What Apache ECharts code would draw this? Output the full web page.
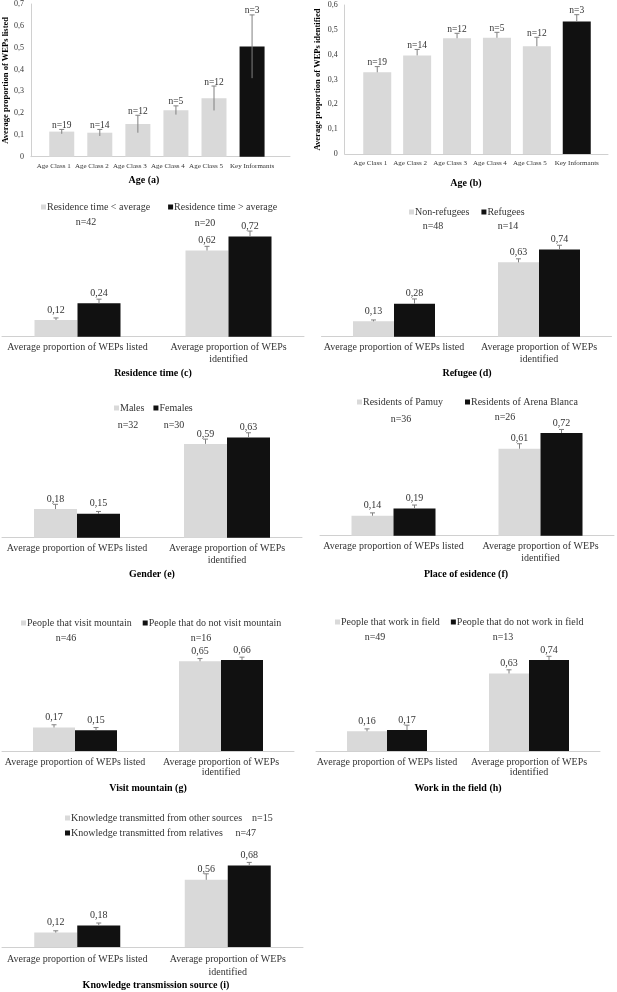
<!DOCTYPE html>
<html><head><meta charset="utf-8">
<script src="https://cdn.jsdelivr.net/npm/echarts@6/dist/echarts.min.js"></script>
<style>html,body{margin:0;padding:0;background:#fff}#c{width:617px;height:992px}</style>
</head><body><div id="c"></div><script>
// ---------- DATA ----------
const ageClasses = ['Age Class 1','Age Class 2','Age Class 3','Age Class 4','Age Class 5','Key Informants'];
const ageN = ['n=19','n=14','n=12','n=5','n=12','n=3'];
const ageListed = [0.115, 0.11, 0.15, 0.213, 0.268, 0.505];
const ageListedErr = [0.01, 0.015, 0.04, 0.02, 0.056, 0.145];
const ageIdentified = [0.329, 0.397, 0.466, 0.468, 0.434, 0.534];
const ageIdentifiedErr = [0.023, 0.024, 0.02, 0.022, 0.036, 0.027];

const measures = ['Average proportion of WEPs listed','Average proportion of WEPs identified'];

const resGroups = ['Residence time < average','Residence time > average'];
const resN = ['n=42','n=20'];
const resLow = [0.12, 0.62], resLowErr = [0.015, 0.03];
const resHigh = [0.24, 0.72], resHighErr = [0.03, 0.04];

const refGroups = ['Non-refugees','Refugees'];
const refN = ['n=48','n=14'];
const refNon = [0.13, 0.63], refNonErr = [0.012, 0.03];
const refYes = [0.28, 0.74], refYesErr = [0.04, 0.035];

const genGroups = ['Males','Females'];
const genN = ['n=32','n=30'];
const genMale = [0.18, 0.59], genMaleErr = [0.03, 0.03];
const genFemale = [0.15, 0.63], genFemaleErr = [0.015, 0.03];

const plcGroups = ['Residents of Pamuy','Residents of Arena Blanca'];
const plcN = ['n=36','n=26'];
const plcPamuy = [0.14, 0.61], plcPamuyErr = [0.02, 0.035];
const plcArena = [0.19, 0.72], plcArenaErr = [0.025, 0.025];

const mtnGroups = ['People that visit mountain','People that do not visit mountain'];
const mtnN = ['n=46','n=16'];
const mtnVisit = [0.17, 0.65], mtnVisitErr = [0.02, 0.02];
const mtnNot = [0.15, 0.66], mtnNotErr = [0.02, 0.02];

const fldGroups = ['People that work in field','People that do not work in field'];
const fldN = ['n=49','n=13'];
const fldWork = [0.16, 0.63], fldWorkErr = [0.02, 0.03];
const fldNot = [0.17, 0.74], fldNotErr = [0.04, 0.03];

const knwGroups = ['Knowledge transmitted from other sources','Knowledge transmitted from relatives'];
const knwN = ['n=15','n=47'];
const knwOther = [0.12, 0.56], knwOtherErr = [0.015, 0.05];
const knwRel = [0.18, 0.68], knwRelErr = [0.02, 0.025];

// ---------- STYLE / LAYOUT ----------
const FONT = 'Liberation Serif';
const LIGHT = '#d9d9d9', DARK = '#111111', ERR = '#808080', AXIS = '#d0d0d0', TXT = '#333333';

const grid = [], xAxis = [], yAxis = [], series = [], legend = [], graphic = [];

function fmt(v){ return v.toFixed(2).replace('.', ','); }
function txt(s, x, y, size, weight){
  return {type:'text', x:x, y:y, silent:true,
    style:{text:s, align:'center', verticalAlign:'middle', textAlign:'center', textVerticalAlign:'middle',
      fontFamily:FONT, fontSize:size, fontWeight:weight||'normal', fill: weight==='bold' ? '#000' : TXT}};
}
function errSeries(gi, values, errs, offset, sym, labels){
  return {type:'custom', xAxisIndex:gi, yAxisIndex:gi, z:5, silent:true,
    data: values.map((v,i)=>[i, v, errs[i]]),
    renderItem(params, api){
      const i = api.value(0), v = api.value(1), e = api.value(2);
      const p = api.coord([i, v]);
      const t = api.coord([i, v + e]);
      const b = sym ? api.coord([i, v - e]) : p;
      const x = p[0] + offset;
      const ch = [
        {type:'line', shape:{x1:x, y1:b[1], x2:x, y2:t[1]}, style:{stroke:ERR, lineWidth:1}},
        {type:'line', shape:{x1:x-2.5, y1:t[1], x2:x+2.5, y2:t[1]}, style:{stroke:ERR, lineWidth:1}}
      ];
      if (labels) ch.push({type:'text', style:{text:labels[params.dataIndex], x:x, y:t[1]-4,
        align:'center', verticalAlign:'middle', fontFamily:FONT, fontSize:9.5, fill:TXT}});
      return {type:'group', children:ch};
    }};
}

function agePanel(o, values, errs, sym){
  const go = grid.length;
  grid.push({left:o.outerLeft, top:o.top, width:o.outerWidth, height:o.height});
  xAxis.push({gridIndex:go, type:'value', min:0, max:1, axisLine:{show:true, lineStyle:{color:AXIS}},
    axisTick:{show:false}, axisLabel:{show:false}, splitLine:{show:false}});
  yAxis.push({gridIndex:go, type:'value', min:0, max:o.max, interval:0.1,
    axisLine:{show:true, lineStyle:{color:AXIS}}, axisTick:{show:false}, splitLine:{show:false},
    axisLabel:{fontFamily:FONT, fontSize:8, color:TXT, margin:7,
      formatter: v => v === 0 ? '0' : v.toFixed(1).replace('.', ',')},
    name:o.yName, nameLocation:'middle', nameGap:o.nameGap,
    nameTextStyle:{fontFamily:FONT, fontSize:8.5, fontWeight:'bold', color:'#000'}});
  const gi = grid.length;
  grid.push({left:o.innerLeft, top:o.top, width:o.innerWidth, height:o.height});
  const last = ageClasses.length - 1;
  xAxis.push({gridIndex:gi, type:'category', data:ageClasses, axisLine:{show:false}, axisTick:{show:false},
    axisLabel:{fontFamily:FONT, fontSize:7, color:TXT, margin:6, interval:0,
      formatter: (v, i) => i < last ? '{s|' + v + '}' : v,
      rich:{s:{fontFamily:FONT, fontSize:7, color:TXT, padding:[0, o.labShift, 0, 0]}}}});
  yAxis.push({gridIndex:gi, type:'value', min:0, max:o.max, show:false});
  series.push({type:'bar', xAxisIndex:gi, yAxisIndex:gi, barWidth:o.barW, silent:true,
    data: values.map((v,i)=>({value:v, itemStyle:{color: i === last ? DARK : LIGHT}}))});
  series.push(errSeries(gi, values, errs, 0, sym, ageN));
  graphic.push(txt(o.title, o.titleX, o.titleY, 10, 'bold'));
}

function groupPanel(o){
  const gi = grid.length;
  grid.push({left:o.left, top:o.base - o.unit, width:o.width, height:o.unit});
  xAxis.push({gridIndex:gi, type:'category', data:measures, axisLine:{lineStyle:{color:AXIS}},
    axisTick:{show:false},
    axisLabel:{fontFamily:FONT, fontSize:10, color:TXT, margin:o.margin, lineHeight:o.lh, interval:0,
      formatter: s => s.replace('WEPs identified', 'WEPs\nidentified')}});
  yAxis.push({gridIndex:gi, type:'value', min:0, max:1, show:false});
  const defs = [[o.names[0], o.a, LIGHT], [o.names[1], o.b, DARK]];
  defs.forEach(([name, vals, color]) => {
    series.push({type:'bar', name:name, xAxisIndex:gi, yAxisIndex:gi, barWidth:o.barW, barGap:'0%',
      silent:true, itemStyle:{color:color}, data:vals,
      label:{show:true, position:'top', distance:5, fontFamily:FONT, fontSize:10, color:TXT,
        formatter: p => fmt(p.value)}});
  });
  series.push(errSeries(gi, o.a, o.aErr, -o.barW/2, false, null));
  series.push(errSeries(gi, o.b, o.bErr, o.barW/2, false, null));
  const lg = {left:o.legLeft, top:o.legTop, padding:0, itemWidth:5, itemHeight:5, icon:'rect',
    itemGap:o.legGap, selectedMode:false, data:o.names,
    textStyle:{fontFamily:FONT, fontSize:10, color:TXT, padding:[0, 0, 0, -4]}};
  if (o.vertical) {
    lg.orient = 'vertical';
    lg.formatter = name => name + (name === o.names[0] ? '    ' : '     ') + o.n[o.names.indexOf(name)];
  } else {
    o.nPos.forEach((p, k) => graphic.push(txt(o.n[k], p[0], p[1], 10)));
  }
  legend.push(lg);
  graphic.push(txt(o.title, o.titleX, o.titleY, 10, 'bold'));
}

agePanel({outerLeft:28, outerWidth:262, innerLeft:42.7, innerWidth:228.4, top:4, height:152.7, max:0.7,
  barW:25, nameGap:18, labShift:16, yName:'Average proportion of WEPs listed', title:'Age (a)', titleX:144, titleY:180},
  ageListed, ageListedErr, true);
agePanel({outerLeft:344.7, outerWidth:263.3, innerLeft:357.3, innerWidth:239.4, top:5, height:149, max:0.6,
  barW:28, nameGap:22, labShift:14, yName:'Average proportion of WEPs identified', title:'Age (b)', titleX:466, titleY:183},
  ageIdentified, ageIdentifiedErr, false);

groupPanel({names:resGroups, n:resN, a:resLow, aErr:resLowErr, b:resHigh, bErr:resHighErr,
  left:2, width:302, base:336.7, unit:139, barW:43, lh:12, margin:5,
  legLeft:41, legTop:202, legGap:18, nPos:[[86,222],[205,223]], title:'Residence time (c)', titleX:153, titleY:373});
groupPanel({names:refGroups, n:refN, a:refNon, aErr:refNonErr, b:refYes, bErr:refYesErr,
  left:321.5, width:290, base:336.7, unit:118, barW:41, lh:12, margin:5,
  legLeft:409, legTop:207, legGap:12, nPos:[[433,226],[508,226]], title:'Refugee (d)', titleX:467, titleY:373});
groupPanel({names:genGroups, n:genN, a:genMale, aErr:genMaleErr, b:genFemale, bErr:genFemaleErr,
  left:2, width:300, base:537.7, unit:159, barW:43, lh:12, margin:5,
  legLeft:114, legTop:403, legGap:9, nPos:[[128,425],[174,425]], title:'Gender (e)', titleX:152, titleY:574});
groupPanel({names:plcGroups, n:plcN, a:plcPamuy, aErr:plcPamuyErr, b:plcArena, bErr:plcArenaErr,
  left:320, width:294, base:535.7, unit:142.6, barW:42, lh:12, margin:5,
  legLeft:357, legTop:397, legGap:22, nPos:[[401,419],[505,417]], title:'Place of esidence (f)', titleX:466, titleY:574});
groupPanel({names:mtnGroups, n:mtnN, a:mtnVisit, aErr:mtnVisitErr, b:mtnNot, bErr:mtnNotErr,
  left:2, width:292, base:751, unit:138, barW:42, lh:10.5, margin:6,
  legLeft:21, legTop:618, legGap:11, nPos:[[66,638],[201,638]], title:'Visit mountain (g)', titleX:148, titleY:788});
groupPanel({names:fldGroups, n:fldN, a:fldWork, aErr:fldWorkErr, b:fldNot, bErr:fldNotErr,
  left:316, width:284, base:751, unit:123, barW:40, lh:10.5, margin:6,
  legLeft:335, legTop:617, legGap:11, nPos:[[375,637],[503,637]], title:'Work in the field (h)', titleX:458, titleY:788});
groupPanel({names:knwGroups, n:knwN, a:knwOther, aErr:knwOtherErr, b:knwRel, bErr:knwRelErr,
  left:2, width:301, base:947, unit:120, barW:43, lh:12.5, margin:6.5, vertical:true,
  legLeft:65, legTop:813, legGap:5, title:'Knowledge transmission source (i)', titleX:156, titleY:985});

const chart = echarts.init(document.getElementById('c'), null, {renderer:'canvas'});
chart.setOption({animation:false, backgroundColor:'#fff', grid, xAxis, yAxis, series, legend, graphic});
</script></body></html>
